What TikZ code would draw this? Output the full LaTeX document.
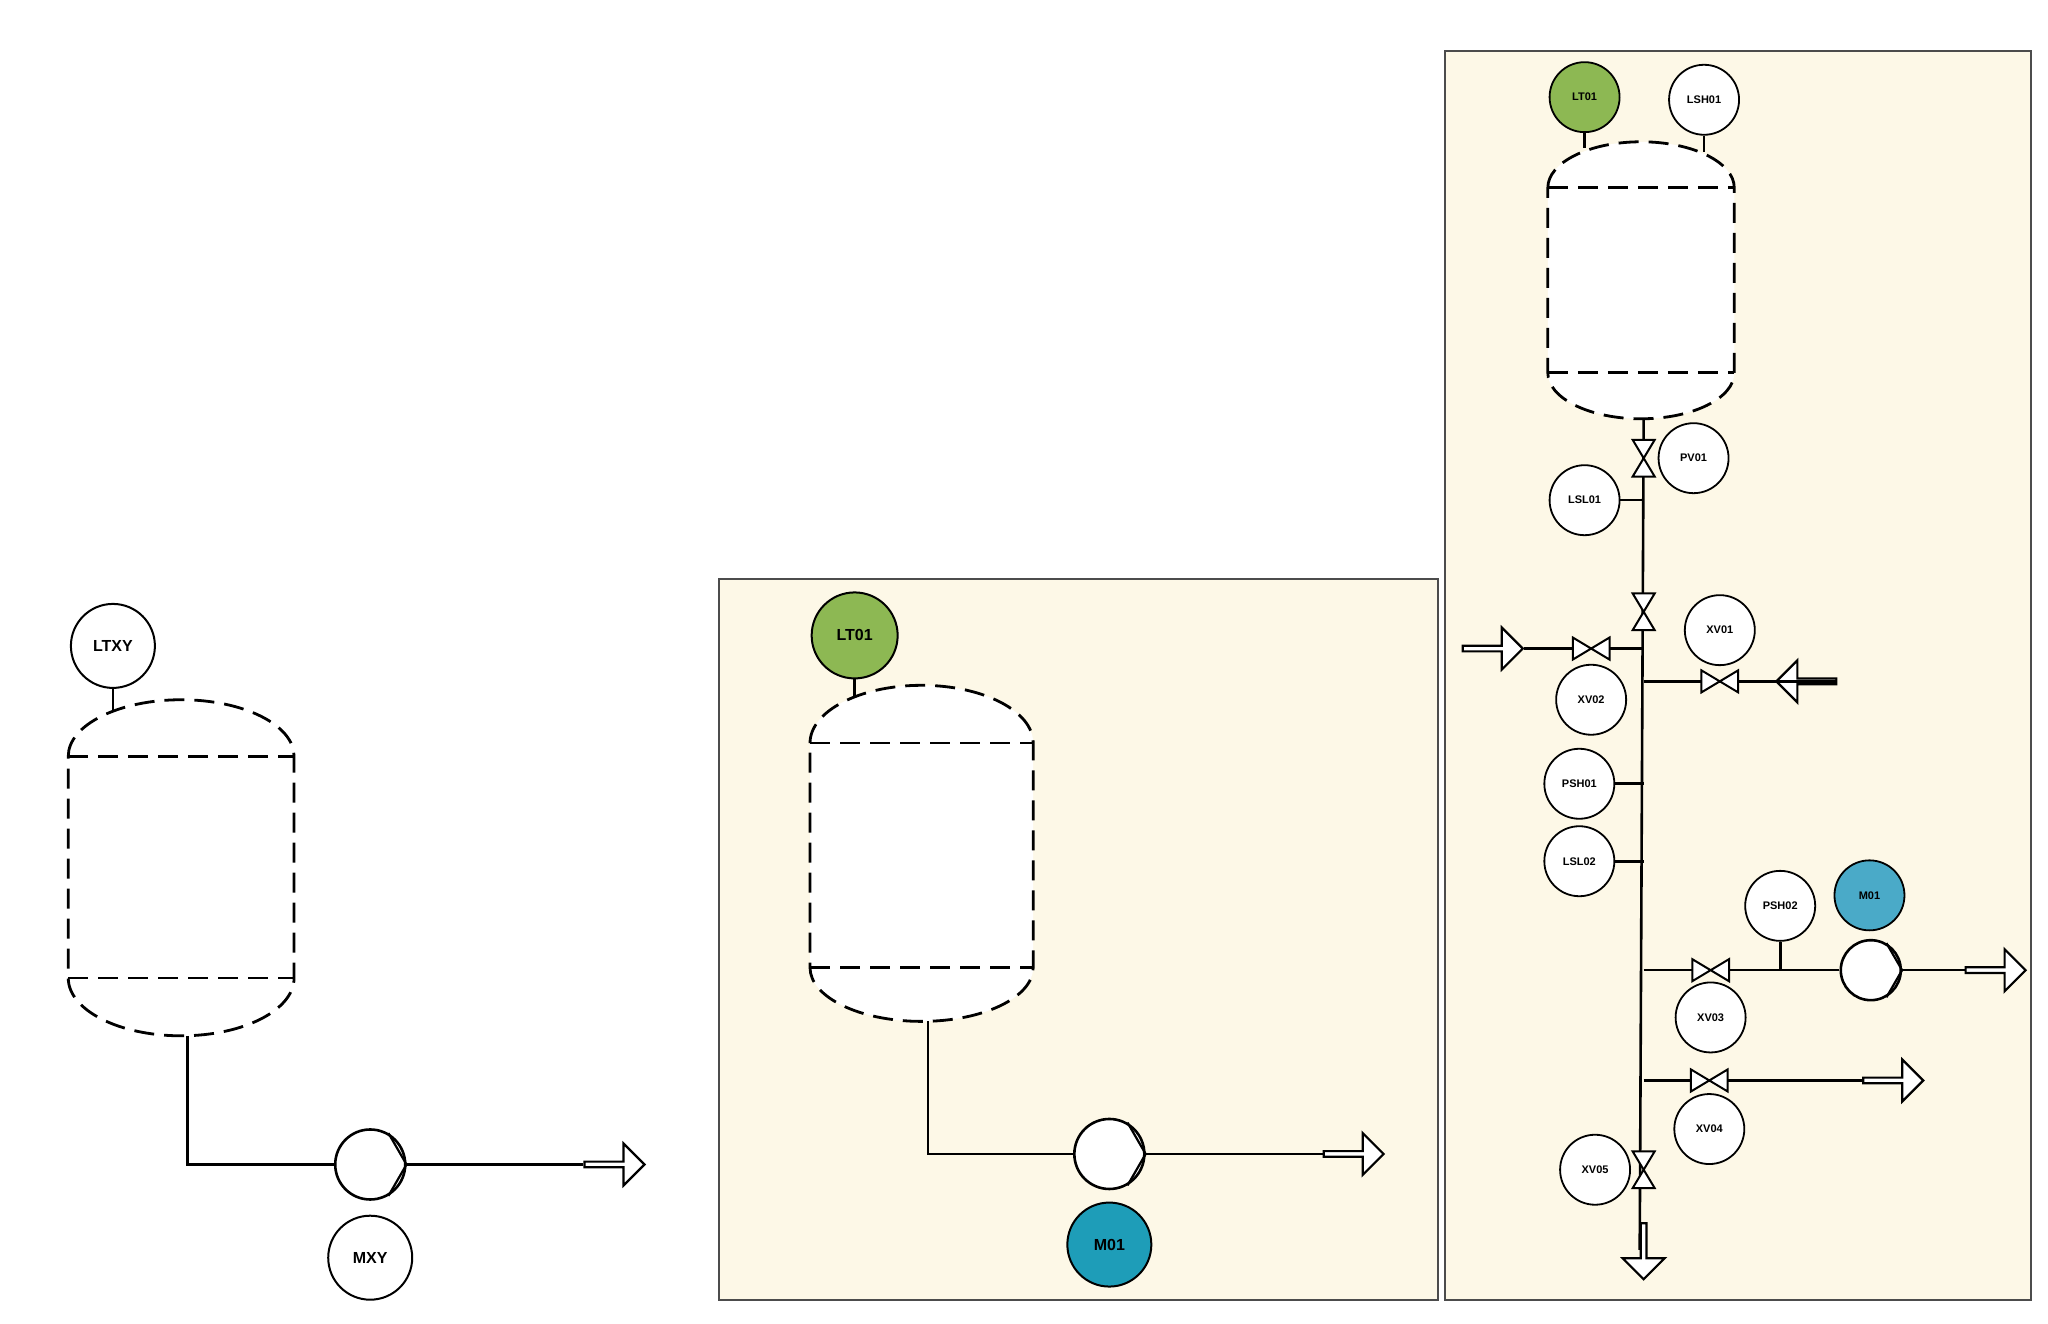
\documentclass[tikz,border=0pt]{standalone}
\usepackage{fontspec}
\setmainfont{Liberation Sans}
\usetikzlibrary{shapes.arrows}
\definecolor{cream}{HTML}{FDF8E7}
\definecolor{lgreen}{HTML}{8DB853}
\definecolor{mblue}{HTML}{1E9DB8}
\definecolor{mblue2}{HTML}{4AAAC8}
\tikzset{
  inst/.style={circle,draw,line width=1pt,fill=white,minimum size=#1,inner sep=0pt,font=\bfseries\fontsize{8}{8}\selectfont},
  sinst/.style={circle,draw,line width=0.9pt,fill=white,minimum size=35pt,inner sep=0pt,font=\bfseries\fontsize{5.5}{6}\selectfont},
  pipe/.style={line width=1.3pt},
  tank/.style={line width=1.4pt,dash pattern=on 10pt off 5pt,fill=white},
  panel/.style={draw=black!70,line width=1pt,fill=cream},
  blk/.style={single arrow,draw,line width=1.1pt,fill=white,minimum height=#1,minimum width=21pt,single arrow head extend=3.5pt,inner sep=0pt},
  pump/.style={circle,draw,line width=1.3pt,fill=white,minimum size=#1,inner sep=0pt}
}
\newcommand{\vlvH}[3]{% x y half-size, horizontal flow
  \draw[line width=1pt,fill=white] (#1-#3,#2-#3*0.6)--(#1+#3,#2+#3*0.6)--(#1+#3,#2-#3*0.6)--(#1-#3,#2+#3*0.6)--cycle;}
\newcommand{\vlvV}[3]{%
  \draw[line width=1pt,fill=white] (#1-#3*0.6,#2-#3)--(#1+#3*0.6,#2+#3)--(#1-#3*0.6,#2+#3)--(#1+#3*0.6,#2-#3)--cycle;}
\newcommand{\pumpmark}[1]{%
  \draw[line width=1.1pt] (#1.60)--(#1.east)--(#1.-60);}
\begin{document}
\begin{tikzpicture}[x=0.6564pt,y=-0.6564pt]
\useasboundingbox (0,0) rectangle (1560,1008.5);
% ================= left =================
\draw[tank] (52,576) arc[start angle=180,end angle=360,x radius=86,y radius=43] -- (224,745) arc[start angle=0,end angle=180,x radius=86,y radius=44] -- cycle;
\draw[tank] (52,576)--(224,576) (52,745)--(224,745);
\coordinate (t1top) at (86,541);
\coordinate (t1bot) at (143,789);
\node[inst=42pt] (ltxy) at (86,492) {LTXY};
\draw[pipe] (ltxy) -- (t1top);
\node[pump=35pt] (p1) at (282,887) {};
\pumpmark{p1}
\node[blk=30pt] (a1) at (467,887) {};
\draw[pipe] (t1bot) |- (p1.west);
\draw[pipe] (p1.east) -- (a1.west);
\node[inst=42pt] (mxy) at (282,958) {MXY};
% ================= middle =================
\draw[panel] (548,441) rectangle (1095,990);
\draw[tank] (617,566) arc[start angle=180,end angle=360,x radius=85,y radius=44] -- (787,737) arc[start angle=0,end angle=180,x radius=85,y radius=41] -- cycle;
\draw[tank] (617,566)--(787,566) (617,737)--(787,737);
\coordinate (t2top) at (651,531);
\coordinate (t2bot) at (707,778);
\node[inst=43pt,fill=lgreen] (lt2) at (651,484) {LT01};
\draw[pipe] (lt2) -- (t2top);
\node[pump=35pt] (p2) at (845,879) {};
\pumpmark{p2}
\node[blk=30pt] (a2) at (1030,879) {};
\draw[pipe] (t2bot) |- (p2.west);
\draw[pipe] (p2.east) -- (a2.west);
\node[inst=42pt,fill=mblue] (m2) at (845,948) {M01};
% ================= right =================
\draw[panel] (1101,39) rectangle (1547,990);
\draw[tank] (1179,143) arc[start angle=180,end angle=360,x radius=71,y radius=35] -- (1321,284) arc[start angle=0,end angle=180,x radius=71,y radius=35] -- cycle;
\draw[tank] (1179,143)--(1321,143) (1179,284)--(1321,284);
\node[sinst,fill=lgreen] (lt3) at (1207,74) {LT01};
\node[sinst] (lsh1) at (1298,76) {LSH01};
\coordinate (t3a) at (1207,113);
\coordinate (t3b) at (1297,115);
\draw[pipe] (lt3) -- (t3a);
\draw[pipe] (lsh1) |- (t3b);
\coordinate (t3bot) at (1252,319);
\node[blk=28pt,shape border rotate=270] (adown) at (1252,952) {};
\draw[pipe] (t3bot) -- (adown.west);
% branches
\coordinate (j1) at (1252,494);
\coordinate (j2) at (1252,519);
\coordinate (j3) at (1252,739);
\coordinate (j4) at (1252,823);
\node[blk=30pt] (ain1) at (1136,494) {};
\draw[pipe] (ain1.east) -- (j1);
\node[blk=30pt,shape border rotate=180] (ain2) at (1377,519) {};
\draw[pipe] (j2) -- (ain2.east);
\node[pump=30pt] (p3) at (1425,739) {};
\pumpmark{p3}
\node[blk=30pt] (aout1) at (1519,739) {};
\draw[pipe] (j3) -- (p3.west);
\draw[pipe] (p3.east) -- (aout1.west);
\node[blk=30pt] (aout2) at (1441,823) {};
\draw[pipe] (j4) -- (aout2.west);
% instruments with taps
\node[sinst] (pv1) at (1290,349) {PV01};
\node[sinst] (lsl1) at (1207,381) {LSL01};
\draw[pipe] (lsl1) -- (1252,381);
\node[sinst] (xv1) at (1310,480) {XV01};
\node[sinst] (xv2) at (1212,533) {XV02};
\node[sinst] (psh1) at (1203,597) {PSH01};
\draw[pipe] (psh1) -- (1252,597);
\node[sinst] (lsl2) at (1203,656) {LSL02};
\draw[pipe] (lsl2) -- (1252,656);
\node[sinst] (psh2) at (1356,690) {PSH02};
\draw[pipe] (psh2) -- (1356,739);
\node[sinst,fill=mblue2] (m3) at (1424,682) {M01};
\node[sinst] (xv3) at (1303,775) {XV03};
\node[sinst] (xv4) at (1302,860) {XV04};
\node[sinst] (xv5) at (1215,891) {XV05};
% valves
\vlvV{1252}{349}{14}
\vlvV{1252}{466}{14}
\vlvH{1212}{494}{14}
\vlvH{1310}{519}{14}
\vlvH{1303}{739}{14}
\vlvH{1302}{823}{14}
\vlvV{1252}{891}{14}
\end{tikzpicture}
\end{document}
